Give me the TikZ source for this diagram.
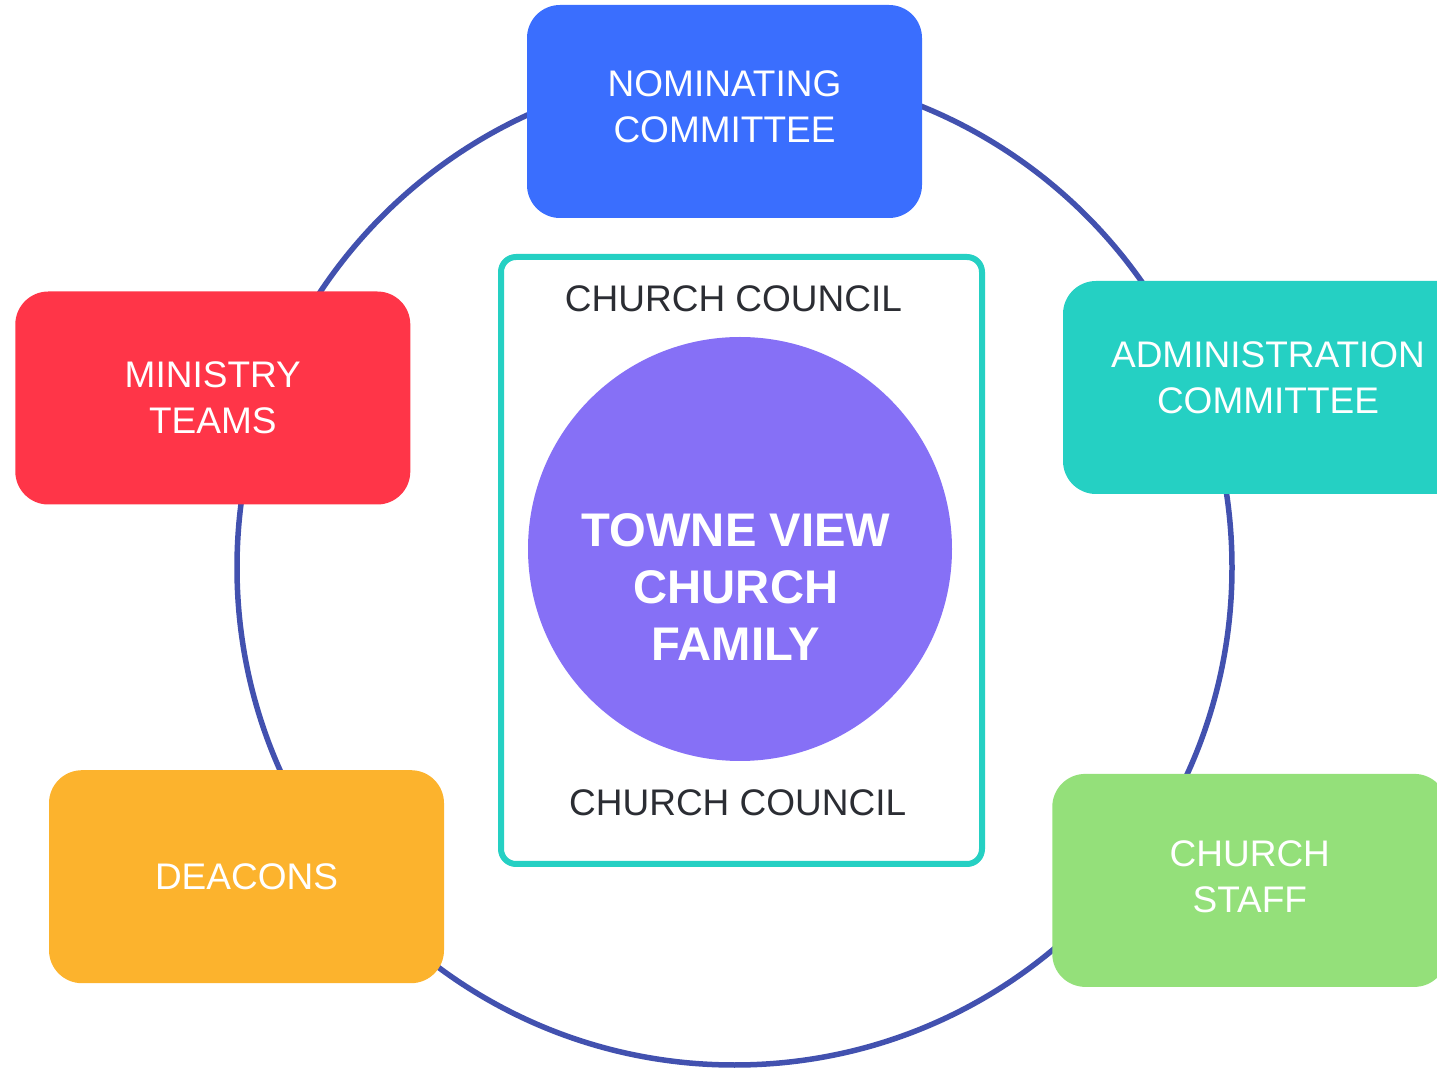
\documentclass[tikz,border=0pt]{standalone}
\usepackage{fontspec}
\setmainfont{Liberation Sans}
\usepackage{xcolor}
\definecolor{ringblue}{HTML}{4251AF}
\definecolor{nomblue}{HTML}{3A6EFE}
\definecolor{minred}{HTML}{FF3548}
\definecolor{admteal}{HTML}{25D0C3}
\definecolor{deaorange}{HTML}{FCB32D}
\definecolor{stagreen}{HTML}{94E07A}
\definecolor{fampurple}{HTML}{8670F6}
\definecolor{councilgray}{HTML}{2B2D33}

\begin{document}
\begin{tikzpicture}[x=0.5pt,y=-0.5pt]
  \tikzstyle{unit}=[rectangle,rounded corners=16.5pt,minimum width=197.5pt,minimum height=106.5pt,text=white,align=center,font=\fontsize{18.5}{23}\selectfont]
  \tikzstyle{council}=[text=councilgray,font=\fontsize{18.5}{23}\selectfont]
  \useasboundingbox (0,0) rectangle (1437,1069);
  \clip (0,0) rectangle (1437,1069);
  % outer ring
  \node[circle,draw=ringblue,line width=2.75pt,minimum size=497.5pt] (ring) at (734.5,567.5) {};
  % the five units
  \node[unit,fill=nomblue,text depth=4.5pt] (nominating) at (724.5,111.5) {NOMINATING\\COMMITTEE};
  \node[unit,fill=minred] (ministry) at (212.8,398) {MINISTRY\\TEAMS};
  \node[unit,fill=admteal,minimum width=205pt,text depth=10pt] (admin) at (1268,387.5) {ADMINISTRATION\\COMMITTEE};
  \node[unit,fill=deaorange] (deacons) at (246.5,876.7) {DEACONS};
  \node[unit,fill=stagreen,text depth=4pt] (staff) at (1249.8,880.4) {CHURCH\\STAFF};
  % council frame with the family in it
  \node[rectangle,draw=admteal,fill=white,line width=3pt,rounded corners=7.5pt,minimum width=240.5pt,minimum height=303.5pt] (frame) at (741.5,560.5) {};
  \node[council] (councilTop) at (733.5,299) {CHURCH COUNCIL};
  \node[council] (councilBottom) at (737.7,803) {CHURCH COUNCIL};
  \node[circle,fill=fampurple,minimum size=212pt] (family) at (740,549) {};
  \node[text=white,align=center,font=\fontsize{23.6}{28.5}\selectfont\bfseries] (title) at (736,587.5) {TOWNE VIEW\\CHURCH\\FAMILY};
\end{tikzpicture}
\end{document}
